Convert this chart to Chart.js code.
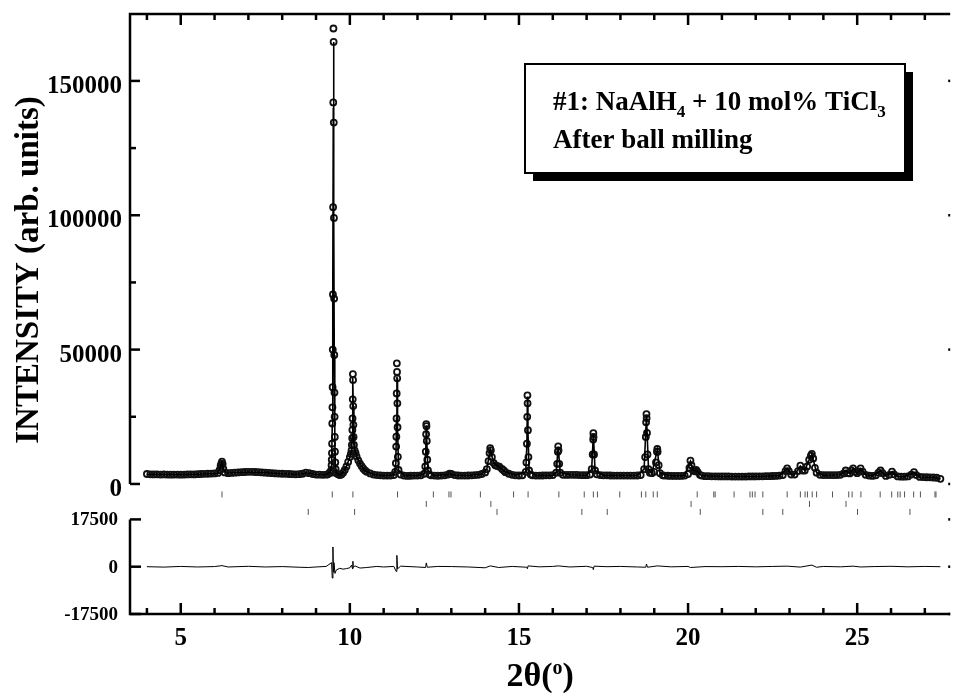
<!DOCTYPE html>
<html>
<head>
<meta charset="utf-8">
<script src="https://cdn.jsdelivr.net/npm/chart.js@4.4.1/dist/chart.umd.min.js"></script>
<style>
  body { margin: 0; background: #fff; }
  canvas { display: block; }
</style>
</head>
<body>
<canvas id="xrd" width="956" height="694"></canvas>
<script>
const observed = [
  [4.0,3700],[4.1,3600],[4.2,3550],[4.3,3600],[4.4,3500],[4.5,3550],[4.6,3500],[4.7,3450],[4.8,3500],[4.9,3500],
  [5.0,3450],[5.1,3500],[5.2,3550],[5.3,3600],[5.4,3550],[5.5,3650],[5.6,3700],[5.7,3750],[5.8,3800],[5.9,3850],
  [6.0,3900],[6.1,4100],[6.15,5200],[6.18,6800],[6.2,7600],[6.22,8300],[6.24,7400],[6.26,5600],[6.3,4300],[6.4,4000],
  [6.5,4100],[6.6,4200],[6.7,4300],[6.8,4400],[6.9,4450],[7.0,4500],[7.1,4500],[7.2,4450],[7.3,4400],[7.4,4300],
  [7.5,4200],[7.6,4100],[7.7,4000],[7.8,3900],[7.9,3850],[8.0,3800],[8.1,3750],[8.2,3700],[8.3,3650],[8.4,3600],
  [8.5,3650],[8.6,3800],[8.7,4200],[8.8,4000],[8.9,3700],[9.0,3500],[9.1,3450],[9.2,3400],[9.3,3450],[9.35,3600],
  [9.4,4200],[9.44,4200],[9.45,5200],[9.46,7000],[9.465,9000],[9.47,11500],[9.475,15000],[9.48,22500],[9.485,28500],
  [9.49,36000],[9.495,50000],[9.5,70500],[9.505,103000],[9.51,142000],[9.515,169500],[9.52,164500],[9.525,134500],
  [9.53,99000],[9.535,69000],[9.54,48000],[9.545,34000],[9.55,25000],[9.555,17500],[9.56,12000],[9.57,8000],
  [9.58,5500],[9.6,4000],[9.65,3600],[9.7,3300],[9.75,3500],[9.8,4200],[9.85,5200],[9.9,6500],[9.95,8200],
  [10.0,10000],[10.03,11200],[10.05,12500],[10.06,14500],[10.07,17000],[10.075,20100],[10.08,24400],[10.085,31500],
  [10.09,40900],[10.095,38700],[10.1,29000],[10.105,22000],[10.11,17500],[10.12,14500],[10.14,12500],[10.17,11500],
  [10.2,10200],[10.25,8800],[10.3,7600],[10.35,6600],[10.4,5700],[10.45,5000],[10.5,4500],[10.6,3900],[10.7,3500],
  [10.8,3300],[10.9,3200],[11.0,3100],[11.1,3100],[11.2,3100],[11.3,3300],[11.34,4500],[11.36,7700],[11.37,13900],
  [11.375,17600],[11.38,24400],[11.385,33700],[11.39,44900],[11.395,41700],[11.4,39300],[11.405,30000],[11.41,21100],
  [11.42,10100],[11.44,5200],[11.5,3500],[11.6,3100],[11.7,3000],[11.8,3050],[11.9,3100],[12.0,3100],[12.1,3200],
  [12.2,3800],[12.23,6500],[12.245,12000],[12.255,18500],[12.26,22300],[12.265,21500],[12.275,16000],[12.29,9000],
  [12.31,5000],[12.35,3600],[12.4,3200],[12.5,3100],[12.6,3050],[12.7,3100],[12.8,3200],[12.9,3500],[12.95,3800],
  [13.0,3700],[13.1,3300],[13.2,3150],[13.3,3100],[13.4,3100],[13.5,3150],[13.6,3200],[13.7,3300],[13.8,3400],
  [13.9,3700],[14.0,4300],[14.05,5500],[14.1,8500],[14.13,11500],[14.15,13300],[14.17,12500],[14.2,10000],
  [14.25,7800],[14.3,7000],[14.35,6700],[14.42,6400],[14.5,5600],[14.55,5000],[14.6,4400],[14.7,3800],[14.8,3400],
  [14.9,3200],[15.0,3150],[15.1,3200],[15.2,4500],[15.22,8000],[15.235,15000],[15.245,25000],[15.25,33000],
  [15.255,30000],[15.265,20000],[15.28,10000],[15.3,5000],[15.35,3500],[15.4,3200],[15.5,3100],[15.6,3100],
  [15.7,3150],[15.8,3200],[15.9,3200],[16.0,3300],[16.1,4200],[16.13,7500],[16.15,12000],[16.16,14000],[16.17,12500],
  [16.19,7500],[16.22,4200],[16.3,3400],[16.4,3350],[16.5,3400],[16.6,3400],[16.7,3350],[16.8,3300],[16.9,3250],
  [17.0,3250],[17.1,3500],[17.15,5500],[17.18,11000],[17.195,16500],[17.2,18900],[17.205,17500],[17.22,11000],
  [17.25,5000],[17.3,3600],[17.4,3300],[17.5,3200],[17.6,3200],[17.7,3150],[17.8,3100],[17.9,3100],[18.0,3100],
  [18.1,3100],[18.2,3100],[18.3,3100],[18.4,3100],[18.5,3150],[18.6,3300],[18.7,5500],[18.73,10000],[18.75,17500],
  [18.76,23000],[18.77,26000],[18.775,24500],[18.785,19000],[18.8,11000],[18.83,5500],[18.87,4200],[18.93,4000],
  [19.0,4500],[19.05,8000],[19.08,12000],[19.09,13000],[19.1,12000],[19.13,7000],[19.17,4000],[19.25,3200],
  [19.3,3100],[19.4,3050],[19.5,3000],[19.6,3000],[19.7,3000],[19.8,3000],[19.9,3100],[20.0,3700],[20.04,6000],
  [20.07,8700],[20.1,7000],[20.15,5000],[20.2,4700],[20.24,5200],[20.28,4500],[20.35,3400],[20.4,3100],[20.5,2900],
  [20.6,2900],[20.7,2850],[20.8,2850],[20.9,2800],[21.0,2800],[21.1,2800],[21.2,2800],[21.3,2750],[21.4,2750],
  [21.5,2750],[21.6,2750],[21.7,2750],[21.8,2800],[21.9,2800],[22.0,2800],[22.1,2850],[22.2,2850],[22.3,2900],
  [22.4,2900],[22.5,2950],[22.6,3000],[22.7,3100],[22.8,3300],[22.88,4800],[22.93,5800],[22.98,4800],[23.05,3500],
  [23.15,3500],[23.25,4800],[23.32,6800],[23.38,5000],[23.45,5000],[23.52,6500],[23.58,9000],[23.63,10500],
  [23.66,11200],[23.7,9500],[23.75,6000],[23.8,4200],[23.9,3400],[24.0,3300],[24.1,3300],[24.2,3300],[24.3,3300],
  [24.4,3300],[24.5,3400],[24.6,3900],[24.66,5000],[24.72,4000],[24.78,3900],[24.83,5000],[24.88,5800],[24.94,4500],
  [25.0,4000],[25.05,4700],[25.1,5800],[25.16,4600],[25.25,3400],[25.35,3100],[25.45,3000],[25.55,3200],[25.63,4200],
  [25.69,5000],[25.75,4000],[25.85,3000],[25.95,3400],[26.03,4600],[26.09,3600],[26.2,2800],[26.3,2700],[26.4,2700],
  [26.5,2800],[26.6,3500],[26.68,4400],[26.75,3300],[26.85,2600],[26.95,2550],[27.05,2500],[27.15,2450],[27.25,2400],
  [27.35,2300],[27.46,1900]
];

// calculated (Rietveld fit) line
const calculated = [
  [4.0,3600],[4.5,3520],[5.0,3480],[5.5,3620],[6.0,3880],[6.1,4000],[6.17,6000],[6.22,7900],[6.27,5200],[6.35,4100],
  [7.0,4450],[7.5,4200],[8.0,3800],[8.4,3620],[8.6,3780],[8.7,4150],[8.8,3950],[9.0,3500],[9.3,3450],[9.42,4500],
  [9.46,7000],[9.48,22000],[9.49,36000],[9.5,70000],[9.51,140000],[9.517,164500],[9.53,99000],[9.54,48000],
  [9.555,17500],[9.57,8000],[9.6,4000],[9.7,3350],[9.8,4200],[9.9,6500],[10.0,10000],[10.05,12500],[10.07,17000],
  [10.08,24400],[10.092,39400],[10.1,29000],[10.12,14500],[10.2,10200],[10.3,7600],[10.4,5700],[10.5,4500],
  [10.7,3500],[11.0,3100],[11.3,3300],[11.36,7700],[11.38,24400],[11.392,39900],[11.4,39300],[11.41,21100],
  [11.44,5200],[11.6,3100],[12.0,3100],[12.2,3800],[12.245,12000],[12.26,21800],[12.275,16000],[12.31,5000],
  [12.5,3100],[12.9,3500],[12.95,3750],[13.1,3300],[13.5,3150],[13.9,3700],[14.05,5500],[14.15,13000],[14.25,7800],
  [14.42,6300],[14.6,4400],[14.9,3200],[15.2,4500],[15.235,15000],[15.25,32500],[15.265,20000],[15.3,5000],
  [15.5,3100],[16.0,3300],[16.1,4200],[16.16,13800],[16.22,4200],[16.5,3400],[17.0,3250],[17.15,5500],[17.2,18600],
  [17.25,5000],[17.5,3200],[18.5,3150],[18.7,5500],[18.77,25500],[18.83,5500],[18.93,4000],[19.09,12700],
  [19.17,4000],[19.5,3000],[19.9,3100],[20.07,8500],[20.15,5000],[20.24,5100],[20.4,3100],[21.0,2800],[22.0,2800],
  [22.7,3100],[22.93,5700],[23.05,3500],[23.15,3500],[23.32,6700],[23.45,5000],[23.58,9000],[23.66,11000],
  [23.8,4200],[24.0,3300],[24.5,3400],[24.66,4900],[24.78,3900],[24.88,5700],[25.0,4000],[25.1,5700],[25.25,3400],
  [25.45,3000],[25.69,4900],[25.85,3000],[26.03,4500],[26.2,2800],[26.4,2700],[26.68,4300],[26.85,2600],
  [27.25,2400],[27.46,1950]
];

// observed - calculated
const difference = [
  [4.0,0],[4.5,-150],[5.0,100],[5.5,-100],[6.0,50],[6.22,400],[6.4,-100],[7.0,150],[7.5,-100],[8.0,50],[8.5,-200],
  [8.77,-300],[9.0,-100],[9.3,100],[9.46,1500],[9.48,-4200],[9.5,7300],[9.515,-2000],[9.53,1500],[9.56,-2500],
  [9.6,-1200],[9.7,-600],[9.8,-900],[9.9,-700],[10.0,-400],[10.05,600],[10.08,-800],[10.09,2000],[10.1,-300],
  [10.15,300],[10.3,-500],[10.5,-300],[10.8,100],[11.0,-100],[11.3,100],[11.37,-1750],[11.39,4200],[11.41,-800],
  [11.5,200],[12.0,-100],[12.24,-300],[12.26,1400],[12.29,-200],[12.6,100],[13.0,50],[13.5,-100],[14.0,-400],
  [14.15,300],[14.4,-300],[14.8,100],[15.23,-200],[15.25,-750],[15.27,300],[15.6,-50],[16.0,100],[16.16,300],
  [16.5,-100],[17.0,150],[17.18,-300],[17.2,-1100],[17.22,200],[17.6,0],[18.0,100],[18.5,-100],[18.75,-200],
  [18.77,1000],[18.8,-200],[19.09,300],[19.5,-50],[20.0,100],[20.07,-300],[20.5,50],[21.0,0],[21.5,100],
  [22.0,-50],[22.5,100],[22.93,200],[23.32,-150],[23.66,600],[23.8,-200],[24.0,100],[24.5,-50],[24.88,200],
  [25.1,-100],[25.5,50],[26.0,150],[26.5,-50],[27.0,100],[27.46,0]
];

// Bragg reflection positions (three phases)
const phase1Peaks = [6.22,9.48,10.09,11.41,12.47,12.93,12.99,13.86,14.84,15.27,16.18,16.93,17.2,17.32,17.98,18.62,
  18.75,18.97,19.09,20.27,20.76,20.8,21.36,21.83,21.9,21.98,22.21,22.93,23.32,23.46,23.53,23.67,23.8,24.27,24.75,
  24.85,25.11,25.68,26.02,26.2,26.27,26.4,26.67,26.87,27.3,27.33];
const phase2Peaks = [12.26,14.17,20.09,23.59,24.67];
const phase3Peaks = [8.77,10.14,14.35,16.86,17.61,20.36,22.21,22.8,25.01,26.56];

const xLabels = [5, 10, 15, 20, 25];
const mainYLabels = [0, 50000, 100000, 150000];
const diffYLabels = [-17500, 0, 17500];

const serif = '"Liberation Serif", "Times New Roman", serif';
const rowLevels = [-3900, -7450, -10420];

function pts(arr) { return arr.map(p => ({ x: p[0], y: p[1] })); }
function rowPts(arr, lvl) { return arr.map(v => ({ x: v, y: lvl })); }

const tickRow = (arr, lvl) => ({
  data: rowPts(arr, lvl), yAxisID: 'y', showLine: false,
  pointStyle: 'line', rotation: 90, pointRadius: 3, pointBorderWidth: 1,
  pointBorderColor: '#555', pointBackgroundColor: '#555', order: 5
});

const frame = {
  id: 'frame',
  beforeDraw(chart) {
    const c = chart.ctx;
    c.save(); c.fillStyle = '#fff'; c.fillRect(0, 0, chart.width, chart.height); c.restore();
  },
  afterDraw(chart) {
    const c = chart.ctx, a = chart.chartArea;
    const { x, y, yd } = chart.scales;
    const seg = (x1, y1, x2, y2) => { c.beginPath(); c.moveTo(x1, y1); c.lineTo(x2, y2); c.stroke(); };
    c.save();
    c.strokeStyle = '#000'; c.fillStyle = '#000'; c.lineWidth = 2.5; c.lineCap = 'butt';

    const y0 = y.getPixelForValue(0);
    const dTop = yd.getPixelForValue(17500), dBot = yd.getPixelForValue(-17500);
    // main panel: left + top
    c.beginPath(); c.moveTo(a.left, y0); c.lineTo(a.left, a.top); c.lineTo(a.right, a.top); c.stroke();
    // difference panel: left + bottom
    c.beginPath(); c.moveTo(a.left, dTop); c.lineTo(a.left, dBot); c.lineTo(a.right, dBot); c.stroke();

    // x ticks, inward on top and bottom
    for (let v = Math.ceil(x.min); v <= x.max; v++) {
      const px = x.getPixelForValue(v);
      const len = v % 5 === 0 ? 11 : 6;
      seg(px, a.top, px, a.top + len);
      seg(px, dBot, px, dBot - len);
    }
    // main y ticks
    for (let v = 0; v <= y.max; v += 25000) {
      const py = y.getPixelForValue(v);
      const major = v % 50000 === 0;
      seg(a.left, py, a.left + (major ? 10 : 6), py);
      if (major) seg(a.right - 2, py, a.right, py);
    }
    diffYLabels.forEach(v => {
      const py = yd.getPixelForValue(v);
      seg(a.left, py, a.left + 11, py);
      seg(a.right - 2, py, a.right, py);
    });

    // tick labels
    c.font = 'bold 25px ' + serif;
    c.textAlign = 'right'; c.textBaseline = 'alphabetic';
    mainYLabels.forEach(v => c.fillText(String(v), a.left - 8, y.getPixelForValue(v) + 12));
    c.textAlign = 'center';
    xLabels.forEach(v => c.fillText(String(v), x.getPixelForValue(v), dBot + 31));
    c.font = 'bold 19px ' + serif;
    c.textAlign = 'right';
    diffYLabels.forEach(v => c.fillText(String(v), a.left - 12, yd.getPixelForValue(v) + 6));

    // axis titles
    c.font = 'bold 33px ' + serif;
    c.save();
    c.translate(38, 270); c.rotate(-Math.PI / 2);
    c.textAlign = 'center';
    c.fillText('INTENSITY (arb. units)', 0, 0);
    c.restore();

    const tx = (a.left + a.right) / 2;
    c.textAlign = 'left';
    const p1 = '2θ(', p3 = ')';
    c.font = 'bold 34px ' + serif;
    const w1 = c.measureText(p1).width, w3 = c.measureText(p3).width;
    c.font = 'bold 20px ' + serif;
    const w2 = c.measureText('o').width;
    let sx = tx - (w1 + w2 + w3) / 2;
    const by = 686;
    c.font = 'bold 34px ' + serif; c.fillText(p1, sx, by); sx += w1;
    c.font = 'bold 20px ' + serif; c.fillText('o', sx, by - 12); sx += w2;
    c.font = 'bold 34px ' + serif; c.fillText(p3, sx, by);

    // sample label box with drop shadow
    const bx = 525, byy = 64, bw = 380, bh = 109;
    c.fillRect(bx + 8, byy + 8, bw, bh);
    c.fillStyle = '#fff'; c.fillRect(bx, byy, bw, bh);
    c.lineWidth = 2; c.strokeRect(bx, byy, bw, bh);
    c.fillStyle = '#000';
    const parts = [['#1: NaAlH', 0], ['4', 1], [' + 10 mol% TiCl', 0], ['3', 1]];
    let lx = 553;
    parts.forEach(([t, sub]) => {
      c.font = (sub ? 'bold 17px ' : 'bold 27px ') + serif;
      c.fillText(t, lx, 110 + (sub ? 7 : 0));
      lx += c.measureText(t).width;
    });
    c.font = 'bold 27px ' + serif;
    c.fillText('After ball milling', 553, 148);
    c.restore();
  }
};

new Chart(document.getElementById('xrd'), {
  type: 'scatter',
  data: {
    datasets: [
      { data: pts(calculated), yAxisID: 'y', showLine: true, borderColor: '#000', borderWidth: 1.6,
        pointRadius: 0, order: 1 },
      { data: pts(observed), yAxisID: 'y', showLine: false, pointRadius: 3, pointBorderWidth: 1.8,
        pointBorderColor: '#111', pointBackgroundColor: 'rgba(255,255,255,0)', order: 2 },
      { data: pts(difference), yAxisID: 'yd', showLine: true, borderColor: '#000', borderWidth: 1,
        pointRadius: 0, order: 3 },
      tickRow(phase1Peaks, rowLevels[0]),
      tickRow(phase2Peaks, rowLevels[1]),
      tickRow(phase3Peaks, rowLevels[2])
    ]
  },
  options: {
    responsive: false,
    animation: false,
    devicePixelRatio: 1,
    layout: { padding: { left: 130, top: 14, right: 0, bottom: 80 } },
    plugins: { legend: { display: false }, tooltip: { enabled: false } },
    scales: {
      x: { type: 'linear', min: 3.5, max: 27.75, display: false },
      y: { type: 'linear', min: -48400, max: 174900, display: false },
      yd: { type: 'linear', min: -17500, max: 204500, display: false }
    }
  },
  plugins: [frame]
});
</script>
</body>
</html>
